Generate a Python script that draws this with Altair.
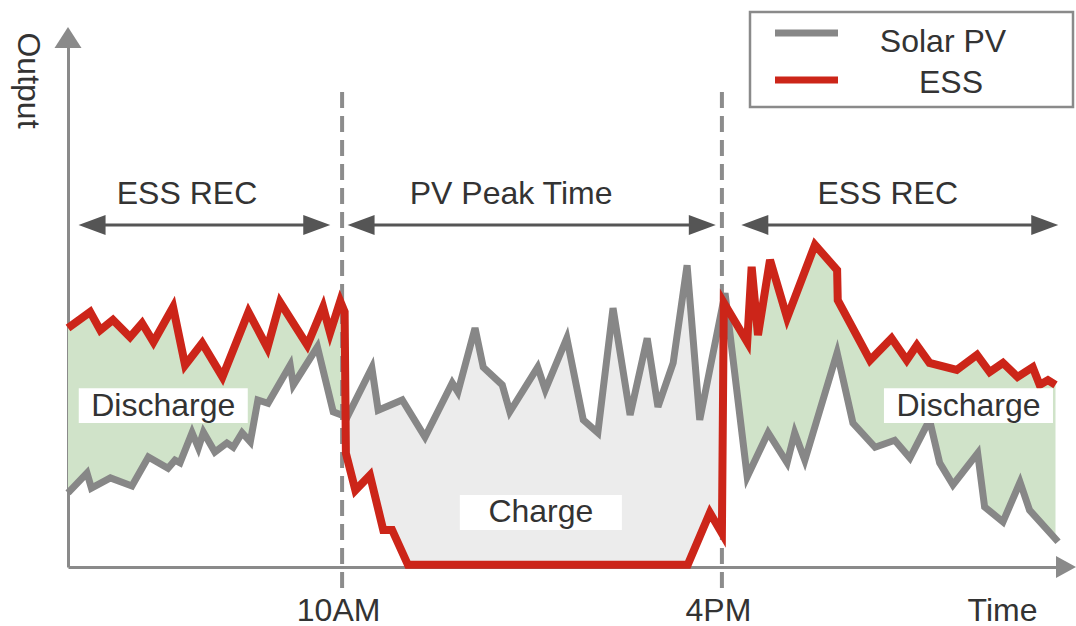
import altair as alt
import numpy as np
import pandas as pd

# ---------------- data ----------------
# time in hours, output in arbitrary units (0 = axis, 100 = top of axis)
pv_t = [5.67, 5.97, 6.04, 6.34, 6.68, 6.94, 7.25, 7.36, 7.44, 7.63,
        7.73, 7.81, 7.99, 8.18, 8.28, 8.42, 8.55, 8.67, 8.83, 9.18,
        9.23, 9.61, 9.86, 10.08, 10.47, 10.57, 10.95, 11.31, 11.74, 11.83,
        12.10, 12.23, 12.53, 12.65, 13.09, 13.21, 13.55, 13.81, 14.04, 14.28,
        14.55, 14.82, 14.99, 15.23, 15.45, 15.65, 16.05, 16.40, 16.73, 17.03,
        17.15, 17.31, 17.82, 18.07, 18.42, 18.73, 18.97, 19.28, 19.44, 19.65,
        20.04, 20.15, 20.44, 20.71, 20.86, 21.31]
pv_y = [13.8, 17.5, 14.7, 16.6, 15.1, 20.5, 18.4, 19.9, 19.4, 25.0,
        22.2, 25.1, 21.4, 23.1, 22.3, 25.0, 23.3, 31.1, 30.5, 37.6,
        33.9, 41.0, 28.9, 27.9, 37.1, 29.2, 31.1, 24.2, 34.3, 32.6,
        44.5, 37.2, 33.9, 28.9, 37.2, 33.0, 42.6, 27.4, 25.0, 48.2,
        28.3, 42.6, 29.8, 38.0, 56.2, 27.4, 51.0, 16.8, 25.0, 19.4,
        25.0, 19.9, 39.9, 26.8, 22.3, 23.6, 20.3, 27.4, 19.4, 15.3,
        21.2, 11.2, 8.4, 15.8, 10.6, 4.7]

ess_t = [5.67, 6.02, 6.18, 6.38, 6.65, 6.84, 7.02, 7.33, 7.52, 7.79,
         8.11, 8.52, 8.82, 9.02, 9.45, 9.70, 9.81, 9.97, 10.04, 10.06,
         10.21, 10.44, 10.65, 10.79, 11.04, 15.46, 15.81, 16.00, 16.03, 16.40,
         16.47, 16.57, 16.76, 17.03, 17.47, 17.82, 17.83, 18.34, 18.68, 18.92,
         19.08, 19.28, 19.71, 20.03, 20.23, 20.44, 20.67, 20.91, 21.02, 21.15,
         21.27]
ess_y = [44.5, 47.5, 44.1, 46.0, 42.8, 45.4, 41.9, 48.4, 37.6, 41.7,
         35.4, 47.5, 40.8, 49.3, 41.3, 48.4, 43.6, 49.5, 47.5, 21.2,
         14.3, 17.1, 6.9, 6.9, 0.4, 0.4, 10.1, 6.3, 49.2, 41.9,
         55.9, 43.2, 57.2, 46.4, 60.0, 55.3, 49.7, 38.5, 42.6, 38.5,
         41.3, 38.0, 36.7, 39.5, 36.3, 38.0, 35.4, 37.2, 33.9, 34.8,
         33.9]

series_names = ["Solar PV", "ESS"]

switch_times = [10, 16]
switch_labels = ["10AM", "4PM"]
x_title = "Time"
y_title = "Output"

region_names = ["ESS REC", "PV Peak Time", "ESS REC"]
region_from = [6.05, 10.30, 16.52]
region_to = [9.60, 15.69, 21.10]
region_text_t = [7.55, 12.67, 18.62]

mode_names = ["Discharge", "Charge", "Discharge"]
mode_from = [5.84, 11.86, 18.56]
mode_to = [8.51, 14.42, 21.23]
mode_low = [26.8, 6.9, 26.8]
mode_high = [33.3, 13.4, 33.3]

band_from = [5.67, 10.06, 16.03]
band_to = [10.04, 16.00, 21.27]
band_kind = ["discharge", "charge", "discharge"]

# ---------------- styles ----------------
FONT = "Liberation Sans"
FS = 32
TEXT = "#333333"
AXIS_GRAY = "#8a8a8a"
DASH_GRAY = "#8c8c8c"
PV_GRAY = "#878787"
ESS_RED = "#cc2519"
ARROW = "#555555"
FILLS = {"discharge": "#d0e3c9", "charge": "#ececec"}

X_DOMAIN = [5.67, 21.42]
Y_DOMAIN = [0, 100]
ARROW_Y = 63.7
REGION_TEXT_Y = 69.4
DASH_LOW, DASH_HIGH = -3.9, 88.45

XS = alt.Scale(domain=X_DOMAIN, nice=False, zero=False)
YS = alt.Scale(domain=Y_DOMAIN, nice=False, zero=False)

label_expr = f"datum.value == {switch_times[0]} ? '{switch_labels[0]}' : '{switch_labels[1]}'"
x_axis = alt.Axis(values=switch_times, labelExpr=label_expr, grid=False, ticks=False,
                  tickSize=0, domainColor=AXIS_GRAY, domainWidth=3,
                  labelFont=FONT, labelFontSize=FS, labelColor=TEXT,
                  labelPadding=43, labelBaseline="middle", labelFlush=False,
                  labelOverlap=False, labelOffset=-4,
                  title=x_title, titleFont=FONT, titleFontSize=FS,
                  titleFontWeight="normal", titleColor=TEXT, titleX=934,
                  titleY=43, titleAlign="center", titleBaseline="middle")
y_axis = alt.Axis(labels=False, ticks=False, tickSize=0, grid=False,
                  domainColor=AXIS_GRAY, domainWidth=3,
                  title=y_title, titleFont=FONT, titleFontSize=FS,
                  titleFontWeight="normal", titleColor=TEXT, titleAngle=90,
                  titleX=-41, titleY=50, titleAlign="center",
                  titleBaseline="middle")


def X(f):
    return alt.X(f"{f}:Q", scale=XS, axis=x_axis)


def Y(f):
    return alt.Y(f"{f}:Q", scale=YS, axis=y_axis)


pv_df = pd.DataFrame({"t": pv_t, "v": pv_y})
ess_df = pd.DataFrame({"t": ess_t, "v": ess_y})

layers = []

# filled bands between the two curves
for a, b, kind in zip(band_from, band_to, band_kind):
    ts = sorted(set([t for t in pv_t + ess_t if a <= t <= b] + [a, b]))
    bdf = pd.DataFrame({
        "t": ts,
        "pv": np.interp(ts, pv_t, pv_y),
        "ess": np.interp(ts, ess_t, ess_y),
    })
    layers.append(
        alt.Chart(bdf).mark_area(color=FILLS[kind], opacity=1)
        .encode(x=X("t"), y=alt.Y("pv:Q", scale=YS, axis=y_axis, stack=None),
                y2=alt.Y2("ess"))
    )

# dashed period boundaries
dash_df = pd.DataFrame({"t": switch_times, "lo": DASH_LOW, "hi": DASH_HIGH})
layers.append(
    alt.Chart(dash_df).mark_rule(color=DASH_GRAY, strokeWidth=4, strokeDash=[16, 8])
    .encode(x=X("t"), y=Y("lo"), y2=alt.Y2("hi"))
)

# series lines
layers.append(alt.Chart(pv_df).mark_line(color=PV_GRAY, strokeWidth=7)
              .encode(x=X("t"), y=Y("v")))
layers.append(alt.Chart(ess_df).mark_line(color=ESS_RED, strokeWidth=8)
              .encode(x=X("t"), y=Y("v")))

# mode labels on white boxes
mode_df = pd.DataFrame({"name": mode_names, "x0": mode_from, "x1": mode_to,
                        "y0": mode_low, "y1": mode_high})
mode_df["xc"] = (mode_df.x0 + mode_df.x1) / 2
mode_df["yc"] = (mode_df.y0 + mode_df.y1) / 2
layers.append(alt.Chart(mode_df).mark_rect(color="white", opacity=1)
              .encode(x=X("x0"), x2=alt.X2("x1"), y=Y("y0"), y2=alt.Y2("y1")))
layers.append(alt.Chart(mode_df).mark_text(font=FONT, fontSize=FS, color=TEXT,
                                           align="center", baseline="middle")
              .encode(x=X("xc"), y=Y("yc"), text="name:N"))

# region double arrows
reg_df = pd.DataFrame({"name": region_names, "a": region_from, "b": region_to,
                       "tx": region_text_t, "y": ARROW_Y, "ty": REGION_TEXT_Y})
layers.append(alt.Chart(reg_df).mark_rule(color=ARROW, strokeWidth=3)
              .encode(x=X("a"), x2=alt.X2("b"), y=Y("y")))
layers.append(alt.Chart(reg_df).mark_point(shape="M1,-0.74L-1,0L1,0.74Z", filled=True,
                                           size=729, color=ARROW, opacity=1)
              .encode(x=X("a"), y=Y("y")))
layers.append(alt.Chart(reg_df).mark_point(shape="M-1,-0.74L1,0L-1,0.74Z", filled=True,
                                           size=729, color=ARROW, opacity=1)
              .encode(x=X("b"), y=Y("y")))
layers.append(alt.Chart(reg_df).mark_text(font=FONT, fontSize=FS, color=TEXT,
                                          align="center", baseline="middle")
              .encode(x=X("tx"), y=Y("ty"), text="name:N"))

# axis arrowheads
head_df = pd.DataFrame({"xt": [21.436], "xy": [0.0], "yt": [X_DOMAIN[0]], "yy": [98.6]})
layers.append(alt.Chart(head_df).mark_point(shape="M-1,-1.1L1,0L-1,1.1Z", filled=True,
                                            size=400, color=AXIS_GRAY, opacity=1)
              .encode(x=X("xt"), y=Y("xy")))
layers.append(alt.Chart(head_df).mark_point(shape="M0,-0.78L1,0.78L-1,0.78Z", filled=True,
                                            size=729, color=AXIS_GRAY, opacity=1)
              .encode(x=X("yt"), y=Y("yy")))

# legend box (pixel positions relative to the plot area)
leg_box = pd.DataFrame({"k": ["box"]})
layers.append(alt.Chart(leg_box).mark_rect(fill="white", stroke=AXIS_GRAY, strokeWidth=2.5)
              .encode(x=alt.value(682), x2=alt.value(1005), y=alt.value(-18), y2=alt.value(77)))
for name, color, ly, tx, ty in [(series_names[0], PV_GRAY, 3, 875, 12),
                                (series_names[1], ESS_RED, 50, 883, 53)]:
    ldf = pd.DataFrame({"series": [name]})
    layers.append(alt.Chart(ldf).mark_rule(color=color, strokeWidth=7)
                  .encode(x=alt.value(707), x2=alt.value(770), y=alt.value(ly)))
    layers.append(alt.Chart(ldf).mark_text(font=FONT, fontSize=FS, color=TEXT,
                                           align="center", baseline="middle")
                  .encode(x=alt.value(tx), y=alt.value(ty), text="series:N"))

chart = (
    alt.layer(*layers)
    .properties(width=997, height=537, background="white",
                padding={"left": 68, "top": 30, "right": 11, "bottom": 59},
                autosize=alt.AutoSizeParams(type="none"))
    .configure_view(strokeWidth=0, stroke="transparent")
)

chart.save("out.html", embed_options={"renderer": "svg", "actions": False})
